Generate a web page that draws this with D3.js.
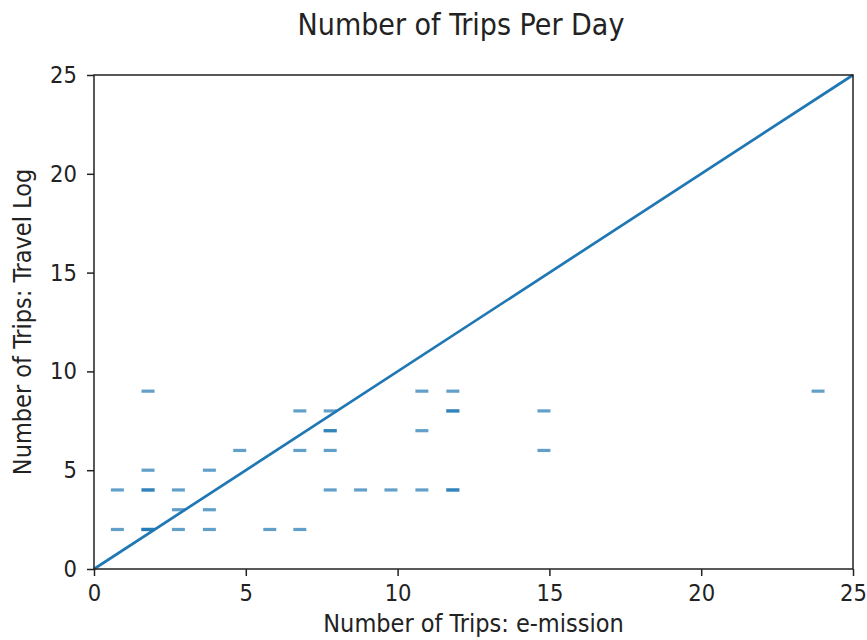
<!DOCTYPE html>
<html>
<head>
<meta charset="utf-8">
<script src="https://cdn.jsdelivr.net/npm/d3@7"></script>
<style>
  body { margin: 0; background: #fff; }
  text { font-family: "DejaVu Sans Condensed", "DejaVu Sans", sans-serif; font-stretch: condensed; fill: #222; }
</style>
</head>
<body>
<svg id="chart" width="867" height="640"></svg>
<script>
// Trips per day: e-mission count (x) vs. travel log count (y)
const emission = [0.77, 0.77, 1.78, 1.78, 1.78, 1.78, 1.78, 1.78, 1.78,
                  2.78, 2.78, 2.78, 3.8, 3.8, 3.8, 4.8, 5.79,
                  6.78, 6.78, 6.78, 7.78, 7.78, 7.78, 7.78, 7.78,
                  8.78, 9.78, 10.8, 10.8, 10.8, 11.82, 11.82, 11.82, 11.82, 11.82,
                  14.82, 14.82, 23.85];
const travelLog = [4, 2, 9, 5, 4, 4, 2, 2, 2,
                   4, 3, 2, 5, 3, 2, 6, 2,
                   8, 6, 2, 8, 7, 7, 6, 4,
                   4, 4, 9, 7, 4, 9, 8, 8, 4, 4,
                   8, 6, 9];
const xTicks = [0, 5, 10, 15, 20, 25];
const yTicks = [0, 5, 10, 15, 20, 25];
const identity = [0, 25];

const svg = d3.select("#chart");
const W = 867, H = 640;
const margin = { left: 94, right: W - 853, top: 75, bottom: H - 569 };

const x = d3.scaleLinear().domain([0, 25]).range([margin.left, W - margin.right]);
const y = d3.scaleLinear().domain([0, 25]).range([H - margin.bottom, margin.top]);

const blue = "#1f77b4";
const ink = "#222";

// y = x reference line
svg.append("line")
  .attr("x1", x(identity[0])).attr("y1", y(identity[0]))
  .attr("x2", x(identity[1])).attr("y2", y(identity[1]))
  .attr("stroke", blue).attr("stroke-width", 2.7);

// horizontal-dash markers (overlapping points stack darker)
svg.append("g").selectAll("line")
  .data(emission.map((d, i) => [d, travelLog[i]]))
  .join("line")
  .attr("x1", d => x(d[0]) - 6.5).attr("x2", d => x(d[0]) + 6.5)
  .attr("y1", d => y(d[1])).attr("y2", d => y(d[1]))
  .attr("stroke", blue).attr("stroke-width", 3.2).attr("stroke-opacity", 0.7);

// axes
const xAxis = svg.append("g")
  .attr("transform", `translate(0,${H - margin.bottom})`)
  .call(d3.axisBottom(x).tickValues(xTicks).tickSize(7).tickPadding(8));
const yAxis = svg.append("g")
  .attr("transform", `translate(${margin.left},0)`)
  .call(d3.axisLeft(y).tickValues(yTicks).tickSize(7).tickPadding(10));
[xAxis, yAxis].forEach(a => {
  a.select(".domain").remove();
  a.selectAll("line").attr("stroke", ink).attr("stroke-width", 1.5);
  a.selectAll("text").attr("font-size", 23.5)
    .attr("font-family", "DejaVu Sans Condensed, DejaVu Sans, sans-serif")
    .attr("fill", ink);
});

// frame
svg.append("rect")
  .attr("x", x(0)).attr("y", y(25))
  .attr("width", x(25) - x(0)).attr("height", y(0) - y(25))
  .attr("fill", "none").attr("stroke", ink).attr("stroke-width", 1.5);

// titles
svg.append("text")
  .attr("x", 461).attr("y", 35)
  .attr("text-anchor", "middle").attr("font-size", 30)
  .text("Number of Trips Per Day");
svg.append("text")
  .attr("x", (x(0) + x(25)) / 2).attr("y", 632)
  .attr("text-anchor", "middle").attr("font-size", 25)
  .text("Number of Trips: e-mission");
svg.append("text")
  .attr("transform", `translate(31,${(y(0) + y(25)) / 2}) rotate(-90)`)
  .attr("text-anchor", "middle").attr("font-size", 25)
  .text("Number of Trips: Travel Log");
</script>
</body>
</html>
